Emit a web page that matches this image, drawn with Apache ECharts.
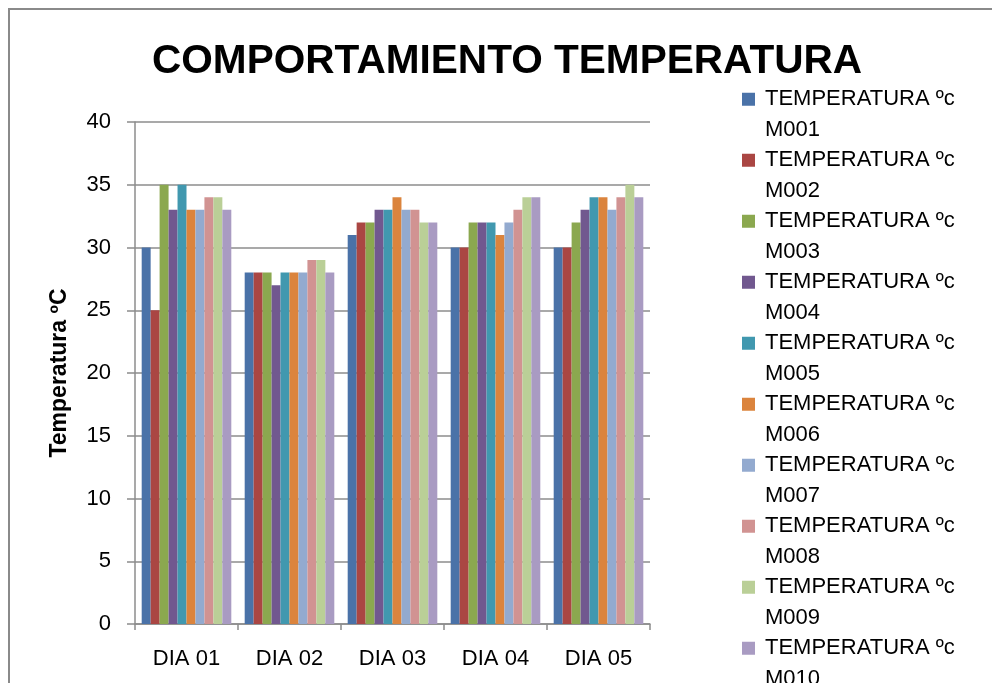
<!DOCTYPE html>
<html>
<head>
<meta charset="utf-8">
<title>Comportamiento temperatura</title>
<script src="https://cdn.jsdelivr.net/npm/echarts@6/dist/echarts.min.js"></script>
<style>
  html, body { margin: 0; padding: 0; background: #ffffff; }
  #chart { width: 992px; height: 683px; }
</style>
</head>
<body>
<div id="chart"></div>
<script>
// Days on the category axis
const categories = ['DIA 01', 'DIA 02', 'DIA 03', 'DIA 04', 'DIA 05'];

// Temperature readings (ºC) per measuring point, one value per day
const M001 = [30, 28, 31, 30, 30];
const M002 = [25, 28, 32, 30, 30];
const M003 = [35, 28, 32, 32, 32];
const M004 = [33, 27, 33, 32, 33];
const M005 = [35, 28, 33, 32, 34];
const M006 = [33, 28, 34, 31, 34];
const M007 = [33, 28, 33, 32, 33];
const M008 = [34, 29, 33, 33, 34];
const M009 = [34, 29, 32, 34, 35];
const M010 = [33, 28, 32, 34, 34];

const seriesNames = [
  'TEMPERATURA ºc M001', 'TEMPERATURA ºc M002', 'TEMPERATURA ºc M003',
  'TEMPERATURA ºc M004', 'TEMPERATURA ºc M005', 'TEMPERATURA ºc M006',
  'TEMPERATURA ºc M007', 'TEMPERATURA ºc M008', 'TEMPERATURA ºc M009',
  'TEMPERATURA ºc M010'
];
const seriesValues = [M001, M002, M003, M004, M005, M006, M007, M008, M009, M010];

// Y axis ticks
const yMin = 0;
const yMax = 40;
const yStep = 5;

const palette = [
  '#4A72A8', '#AA4643', '#8BA84F', '#71588F', '#4198AF',
  '#DB843D', '#93AACF', '#D19392', '#BACF97', '#A99BC2'
];

const baseFont = 'Liberation Sans, Arial, sans-serif';
const gridColor = '#8c8c8c';

const chart = echarts.init(document.getElementById('chart'), null, { renderer: 'canvas' });

const series = seriesNames.map((name, i) => ({
  name: name,
  type: 'bar',
  data: seriesValues[i],
  barGap: '0%',
  barCategoryGap: '13%',
  itemStyle: { color: palette[i] }
}));

chart.setOption({
  animation: false,
  backgroundColor: '#ffffff',
  color: palette,
  title: {
    text: 'COMPORTAMIENTO TEMPERATURA',
    left: 152,
    top: 42,
    padding: 0,
    textStyle: {
      fontFamily: baseFont,
      fontWeight: 'bold',
      fontSize: 40.6,
      lineHeight: 40,
      color: '#000000'
    }
  },
  legend: {
    orient: 'vertical',
    left: 742,
    top: 84,
    height: 900,
    padding: 0,
    itemGap: 0,
    itemWidth: 18,
    itemHeight: 43.5,
    // square swatch sitting beside the first text line
    icon: 'path://M0,0H13V13H0Z M18,43.5',
    formatter: function (name) {
      const cut = name.lastIndexOf(' ');
      return name.slice(0, cut) + '\n' + name.slice(cut + 1);
    },
    textStyle: {
      fontFamily: baseFont,
      fontSize: 22,
      lineHeight: 30.5,
      color: '#000000'
    },
    selectedMode: false
  },
  grid: {
    left: 135,
    right: 342,
    top: 122,
    bottom: 59,
    containLabel: false
  },
  xAxis: {
    type: 'category',
    data: categories,
    axisLine: { show: true, lineStyle: { color: gridColor, width: 1.5 } },
    axisTick: { show: true, length: 6, lineStyle: { color: gridColor, width: 1.5 } },
    axisLabel: {
      margin: 24,
      fontFamily: baseFont,
      fontSize: 22,
      color: '#000000'
    }
  },
  yAxis: {
    type: 'value',
    min: yMin,
    max: yMax,
    interval: yStep,
    name: 'Temperatura ºC',
    nameLocation: 'middle',
    nameGap: 64,
    nameRotate: 90,
    nameTextStyle: {
      fontFamily: baseFont,
      fontWeight: 'bold',
      fontSize: 23,
      color: '#000000'
    },
    axisLine: { show: true, lineStyle: { color: gridColor, width: 1.5 } },
    axisTick: { show: true, length: 8, lineStyle: { color: gridColor, width: 1.5 } },
    axisLabel: {
      margin: 24,
      fontFamily: baseFont,
      fontSize: 22,
      color: '#000000'
    },
    splitLine: { show: true, lineStyle: { color: gridColor, width: 1.5 } }
  },
  graphic: [
    {
      type: 'polyline',
      shape: { points: [[9, 683], [9, 9], [992, 9]] },
      style: { stroke: '#8a8a8a', lineWidth: 2, fill: null },
      silent: true
    }
  ],
  series: series
});
</script>
</body>
</html>
